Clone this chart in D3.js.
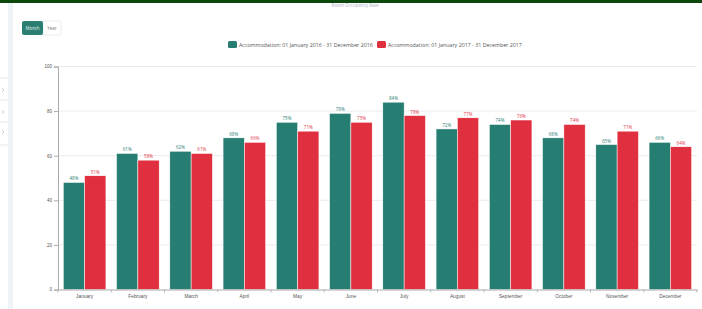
<!DOCTYPE html>
<html>
<head>
<meta charset="utf-8">
<script src="https://cdn.jsdelivr.net/npm/d3@7"></script>
<style>
  html, body { margin: 0; padding: 0; background: #fff; }
  svg { display: block; font-family: "Open Sans", "Liberation Sans", sans-serif; }
</style>
</head>
<body>
<svg id="chart" width="702" height="309"></svg>
<script>
const months = ['January', 'February', 'March', 'April', 'May', 'June', 'July',
  'August', 'September', 'October', 'November', 'December']
const series2016 = [48, 61, 62, 68, 75, 79, 84, 72, 74, 68, 65, 66]
const series2017 = [51, 58, 61, 66, 71, 75, 78, 77, 76, 74, 71, 64]
const seriesNames = ['Accommodation: 01 January 2016 - 31 December 2016',
  'Accommodation: 01 January 2017 - 31 December 2017']
const yTicks = [0, 20, 40, 60, 80, 100]
const colors = ['#267d71', '#e0303f']

const svg = d3.select('#chart')

// page chrome
svg.append('rect').attr('x', 0).attr('y', 0).attr('width', 702).attr('height', 3).attr('fill', '#0c470c')
svg.append('rect').attr('x', 8).attr('y', 3).attr('width', 5).attr('height', 306).attr('fill', '#eef3f8')
;[78, 100, 122, 145].forEach(y => {
  svg.append('line').attr('x1', 0).attr('x2', 8).attr('y1', y).attr('y2', y)
    .attr('stroke', '#e6e9ee').attr('stroke-width', 1)
})
;[90, 112, 132].forEach(y => {
  svg.append('path').attr('d', `M2,${y - 2} L4,${y} L2,${y + 2}`)
    .attr('fill', 'none').attr('stroke', '#b8bec6').attr('stroke-width', 0.7)
})

svg.append('text').attr('x', 355).attr('y', 7).attr('text-anchor', 'middle')
  .attr('font-size', 4.5).attr('fill', '#a9b4c2').text('Room Occupancy Rate')

// month / year toggle
svg.append('rect').attr('x', 43).attr('y', 21).attr('width', 18).attr('height', 14).attr('rx', 2)
  .attr('fill', '#fff').attr('stroke', '#e3e6ea').attr('stroke-width', 0.8)
svg.append('rect').attr('x', 22).attr('y', 21).attr('width', 21).attr('height', 14).attr('rx', 2)
  .attr('fill', '#2a7f72')
svg.append('text').attr('x', 32.5).attr('y', 30).attr('text-anchor', 'middle')
  .attr('font-size', 4.5).attr('fill', '#e8f2f0').text('Month')
svg.append('text').attr('x', 52).attr('y', 30).attr('text-anchor', 'middle')
  .attr('font-size', 4.5).attr('fill', '#777').text('Year')

// legend
const legend = svg.append('g')
const legendX = [228, 377]
seriesNames.forEach((name, i) => {
  legend.append('rect').attr('x', legendX[i]).attr('y', 41).attr('width', 9).attr('height', 7)
    .attr('rx', 1.5).attr('fill', colors[i])
  legend.append('text').attr('x', legendX[i] + 11).attr('y', 46.8)
    .attr('font-size', 5.3).attr('fill', '#555').text(name)
})

// chart
const margin = { left: 58, right: 5, top: 66.5, bottom: 19.5 }
const width = 702 - margin.left - margin.right
const height = 309 - margin.top - margin.bottom
const g = svg.append('g').attr('transform', `translate(${margin.left},${margin.top})`)

const x = d3.scaleBand().domain(months).range([0, width]).paddingInner(0.2).paddingOuter(0.1)
const xs = d3.scaleBand().domain([0, 1]).range([0, x.bandwidth()])
const y = d3.scaleLinear().domain([0, 100]).range([height, 0])

// gridlines
g.selectAll('.grid').data(yTicks.filter(d => d > 0)).enter().append('line')
  .attr('x1', 0).attr('x2', width)
  .attr('y1', d => y(d)).attr('y2', d => y(d))
  .attr('stroke', '#ebebeb').attr('stroke-width', 1)

// bars
const data = months.map((m, i) => ({ month: m, values: [series2016[i], series2017[i]] }))
const groups = g.selectAll('.month').data(data).enter().append('g')
  .attr('transform', d => `translate(${x(d.month)},0)`)
groups.selectAll('rect').data(d => d.values).enter().append('rect')
  .attr('x', (d, i) => xs(i))
  .attr('y', d => y(d))
  .attr('width', xs.bandwidth())
  .attr('height', d => height - y(d))
  .attr('fill', (d, i) => colors[i])
  .attr('stroke', '#fff').attr('stroke-width', 0.5)
groups.selectAll('text').data(d => d.values).enter().append('text')
  .attr('x', (d, i) => xs(i) + xs.bandwidth() / 2)
  .attr('y', d => y(d) - 2)
  .attr('text-anchor', 'middle')
  .attr('font-size', 4.5)
  .attr('fill', (d, i) => colors[i])
  .text(d => `${d}%`)

// y axis
const yAxis = g.append('g').call(d3.axisLeft(y).tickValues(yTicks).tickSize(4).tickPadding(2))
yAxis.select('.domain').attr('stroke', '#aaa')
yAxis.selectAll('.tick line').attr('stroke', '#aaa')
yAxis.selectAll('.tick text').attr('font-size', 4.5).attr('fill', '#555')

// x axis
const xAxis = g.append('g').attr('transform', `translate(0,${height})`)
  .call(d3.axisBottom(x).tickSize(0).tickPadding(5))
xAxis.select('.domain').attr('stroke', '#aaa')
xAxis.selectAll('.tick text').attr('font-size', 4.8).attr('fill', '#555')
const edges = d3.range(months.length + 1).map(i => i * x.step())
g.selectAll('.xtick').data(edges).enter().append('line')
  .attr('x1', d => d).attr('x2', d => d)
  .attr('y1', height).attr('y2', height + 3)
  .attr('stroke', '#aaa').attr('stroke-width', 0.8)
</script>
</body>
</html>
